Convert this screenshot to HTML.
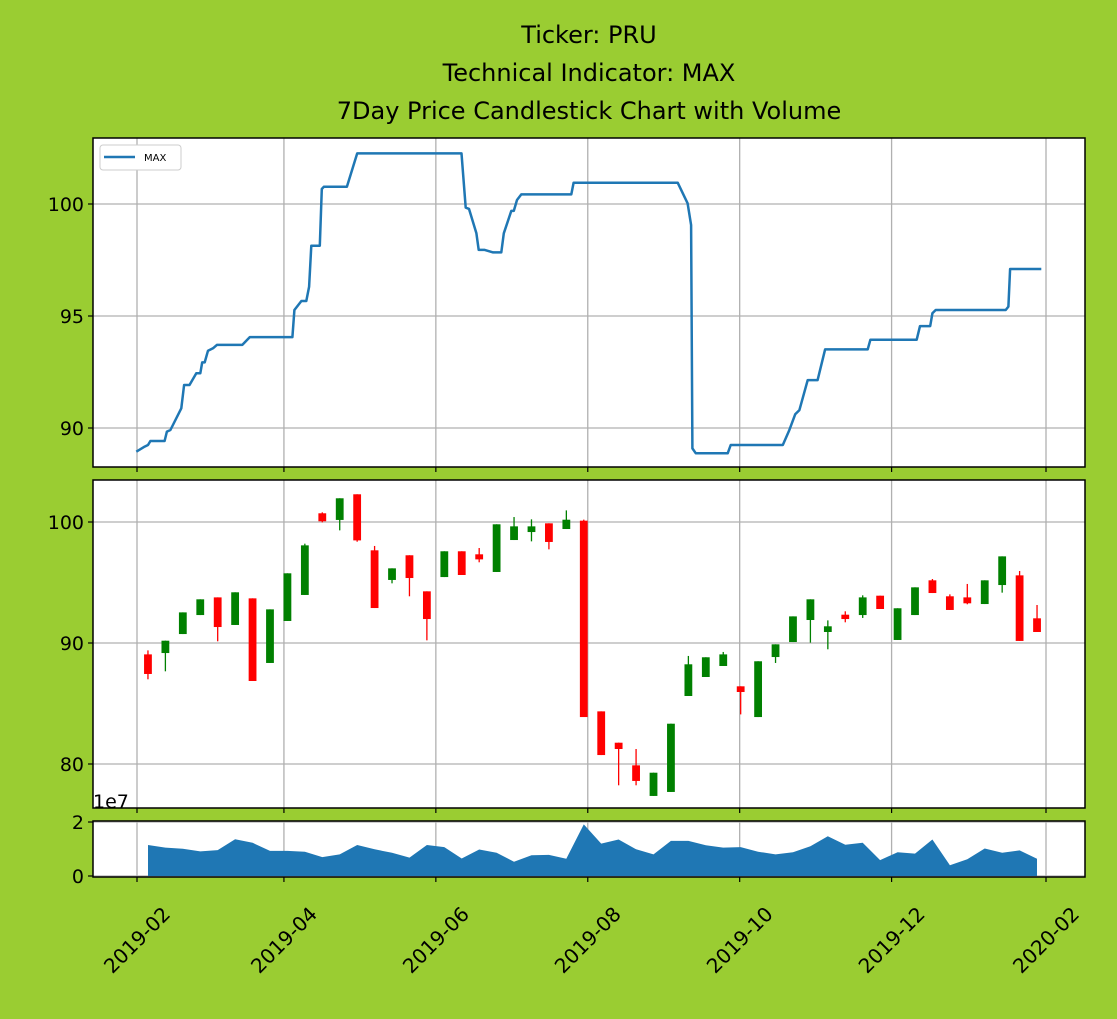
<!DOCTYPE html>
<html><head><meta charset="utf-8"><style>
html,body{margin:0;padding:0;background:#9acd32;}
svg{display:block;font-family:"DejaVu Sans","Liberation Sans",sans-serif;}
</style></head><body>
<svg id="chart" width="1117" height="1019" viewBox="0 0 1117 1019" xmlns="http://www.w3.org/2000/svg">
<rect width="1117" height="1019" fill="#9acd32"/>
<g font-size="24" text-anchor="middle" fill="#000">
<text x="589" y="43">Ticker: PRU</text>
<text x="589" y="81">Technical Indicator: MAX</text>
<text x="589" y="119">7Day Price Candlestick Chart with Volume</text>
</g>
<rect x="93" y="138" width="992" height="329" fill="#fff"/>
<rect x="93" y="480" width="992" height="328" fill="#fff"/>
<rect x="93" y="821" width="992" height="56" fill="#fff"/>
<g id="grid"></g>
<g id="marks"></g>
<g fill="none" stroke="#000" stroke-width="1.5">
<rect x="93" y="138" width="992" height="329"/>
<rect x="93" y="480" width="992" height="328"/>
<rect x="93" y="821" width="992" height="56"/>
</g>
<g id="axes" font-size="19" fill="#000"></g>
<g>
<rect x="100" y="145" width="81" height="25" rx="3" fill="#fff" stroke="#ccc" stroke-width="1"/>
<line x1="104" y1="157" x2="135" y2="157" stroke="#1f77b4" stroke-width="2.5"/>
<text x="144" y="161" font-size="10" fill="#000">MAX</text>
</g>
<text x="93" y="808" font-size="19" fill="#000">1e7</text>
</svg>
<script>
// ---- data ----
const monthTickDays = [0, 59, 120, 181, 242, 303, 365];
const monthTickLabels = ["2019-02","2019-04","2019-06","2019-08","2019-10","2019-12","2020-02"];
const maxTicks = [90, 95, 100];
const priceTicks = [80, 90, 100];
const volTicks = [0, 2];
const candleStartDay = 4.4; // days after 2019-02-01
const candleStepDays = 7;
const opens  = [89.06,89.17,90.74,92.31,93.77,91.49,93.69,88.35,91.82,93.97,100.72,100.17,102.29,97.66,95.21,97.25,94.27,95.45,97.58,97.33,95.87,98.51,99.17,99.89,99.42,100.11,
                84.35,81.76,79.89,77.36,77.69,85.62,87.19,88.10,86.42,83.88,88.84,90.08,91.90,90.91,92.34,92.31,93.91,90.25,92.31,95.18,93.86,93.77,93.22,94.79,95.59,92.04];
const closes = [87.44,90.19,92.53,93.61,91.32,94.19,86.86,92.78,95.76,98.07,100.06,101.96,98.48,92.89,96.17,95.37,91.98,97.58,95.62,96.91,99.81,99.64,99.64,98.35,100.19,83.88,
                80.74,81.24,78.60,79.28,83.33,88.24,88.82,89.06,85.95,88.49,89.89,92.20,93.61,91.38,91.98,93.77,92.81,92.87,94.60,94.13,92.73,93.28,95.18,97.16,90.17,90.91];
const highs  = [89.39,90.19,92.53,93.61,93.77,94.19,93.69,92.78,95.76,98.21,100.80,101.96,102.29,98.02,96.17,97.25,94.27,97.58,97.58,97.85,99.81,100.41,100.22,99.89,100.96,100.20,
                84.35,81.76,81.24,79.28,83.33,88.93,88.82,89.26,86.42,88.49,89.89,92.20,93.61,91.87,92.62,93.94,93.91,92.87,94.60,95.29,94.02,94.88,95.18,97.16,95.95,93.14];
const lows   = [87.00,87.66,90.74,92.31,90.14,91.49,86.86,88.35,91.82,93.97,99.97,99.31,98.37,92.89,94.93,93.86,90.22,95.45,95.62,96.67,95.87,98.51,98.40,97.74,99.42,83.88,
                80.74,78.24,78.24,77.36,77.69,85.62,87.19,88.10,84.10,83.88,88.35,90.08,90.03,89.48,91.71,92.07,92.81,90.25,92.31,94.13,92.73,93.20,93.22,94.16,90.17,90.91];
const volumes = [1.15,1.05,1.01,0.91,0.96,1.36,1.23,0.93,0.93,0.90,0.70,0.80,1.15,0.99,0.86,0.68,1.15,1.07,0.65,0.98,0.86,0.53,0.77,0.78,0.64,1.91,
                 1.20,1.35,0.99,0.80,1.30,1.30,1.14,1.05,1.07,0.90,0.80,0.88,1.10,1.47,1.16,1.23,0.59,0.88,0.83,1.35,0.40,0.62,1.02,0.86,0.95,0.64];
const maxDays = [-0.3,3.1,4.4,5.4,11.1,12,13.4,17.8,18.9,21.1,23.8,25.4,26.2,27.2,28.5,30.5,32.1,42.3,45.3,62.4,63.2,66,68,69.1,70,73.4,74.2,75,84.3,88.4,130.3,132,133.3,136.3,137.2,139.6,143,146.3,147.3,150.3,151.3,152.6,154.3,174.4,175.3,217.1,221.1,222.5,223,224.4,237.2,238.4,259.3,261.8,264.3,266,269.3,273.3,276.3,293.4,294.5,313.1,314.4,318.5,319.4,320.7,348.8,349.9,350.6,363.1];
const maxValues = [88.94,89.17,89.24,89.42,89.42,89.84,89.91,90.88,91.92,91.92,92.44,92.44,92.93,92.93,93.45,93.56,93.71,93.71,94.06,94.06,95.27,95.67,95.67,96.31,98.14,98.14,100.67,100.77,100.77,102.26,102.26,99.84,99.78,98.69,97.95,97.95,97.84,97.84,98.69,99.69,99.69,100.18,100.43,100.43,100.95,100.95,100.03,99.06,89.09,88.87,88.87,89.24,89.24,89.87,90.61,90.80,92.14,92.14,93.51,93.51,93.94,93.94,94.55,94.55,95.12,95.27,95.27,95.42,97.10,97.10];

// ---- scales ----
const xS = d => 137 + d * (909 / 365);
const y1 = v => 204 + (100 - v) * 22.4;
const y2 = v => 522 + (100 - v) * 12.1;
const y3 = v => 876 - v * 27;
const NS = "http://www.w3.org/2000/svg";
function mk(tag, attrs, parent) {
  const e = document.createElementNS(NS, tag);
  for (const k in attrs) e.setAttribute(k, attrs[k]);
  parent.appendChild(e);
  return e;
}
const grid = document.getElementById('grid');
const marks = document.getElementById('marks');
const axes = document.getElementById('axes');
const panels = [[138,467],[480,808],[821,877]];

// vertical grid + x ticks
monthTickDays.forEach((d, i) => {
  const x = xS(d);
  panels.forEach(p => {
    const l = mk('line', {x1:x, x2:x, y1:p[0], y2:p[1], stroke:'#b0b0b0', 'stroke-width':1.3}, grid);
    
    
    mk('line', {x1:x, x2:x, y1:p[1], y2:p[1]+5, stroke:'#000', 'stroke-width':1.2}, axes);
  });
  const t = mk('text', {x:x, y:947, 'text-anchor':'middle', 'font-size':20, transform:`rotate(-45 ${x} 940)`}, axes);
  t.textContent = monthTickLabels[i];
  
  
});
function yAxis(ticks, ys, x0, x1) {
  ticks.forEach(v => {
    const y = ys(v);
    const g = mk('line', {x1:x0, x2:x1, y1:y, y2:y, stroke:'#b0b0b0', 'stroke-width':1.3}, grid);
    
    
    mk('line', {x1:x0-5, x2:x0, y1:y, y2:y, stroke:'#000', 'stroke-width':1.2}, axes);
    const t = mk('text', {x:x0-9, y:y+7, 'text-anchor':'end'}, axes);
    t.textContent = v;
    
    
  });
}
yAxis(maxTicks, y1, 93, 1085);
yAxis(priceTicks, y2, 93, 1085);
yAxis(volTicks, y3, 93, 1085);

// MAX line
const pts = maxDays.map((d, i) => xS(d).toFixed(1) + ',' + y1(maxValues[i]).toFixed(1)).join(' ');
const ml = mk('polyline', {points:pts, fill:'none', stroke:'#1f77b4', 'stroke-width':2.5, 'stroke-linejoin':'round'}, marks);



// candles
opens.forEach((o, i) => {
  const c = closes[i];
  const x = xS(candleStartDay + i * candleStepDays);
  const col = c >= o ? '#008000' : '#ff0000';
  const w = mk('line', {x1:x, x2:x, y1:y2(highs[i]), y2:y2(lows[i]), stroke:col, 'stroke-width':1.3}, marks);
  
  
  const top = y2(Math.max(o, c)), bot = y2(Math.min(o, c));
  const b = mk('rect', {x:x-3.9, y:top, width:7.8, height:Math.max(bot-top, 1), fill:col}, marks);
  
  
});

// volume area
let vp = 'M' + xS(candleStartDay).toFixed(1) + ',' + y3(0);
volumes.forEach((v, i) => { vp += ' L' + xS(candleStartDay + i * candleStepDays).toFixed(1) + ',' + y3(v).toFixed(1); });
vp += ' L' + xS(candleStartDay + (volumes.length - 1) * candleStepDays).toFixed(1) + ',' + y3(0) + ' Z';
const va = mk('path', {d:vp, fill:'#1f77b4'}, marks);


</script>
</body></html>
